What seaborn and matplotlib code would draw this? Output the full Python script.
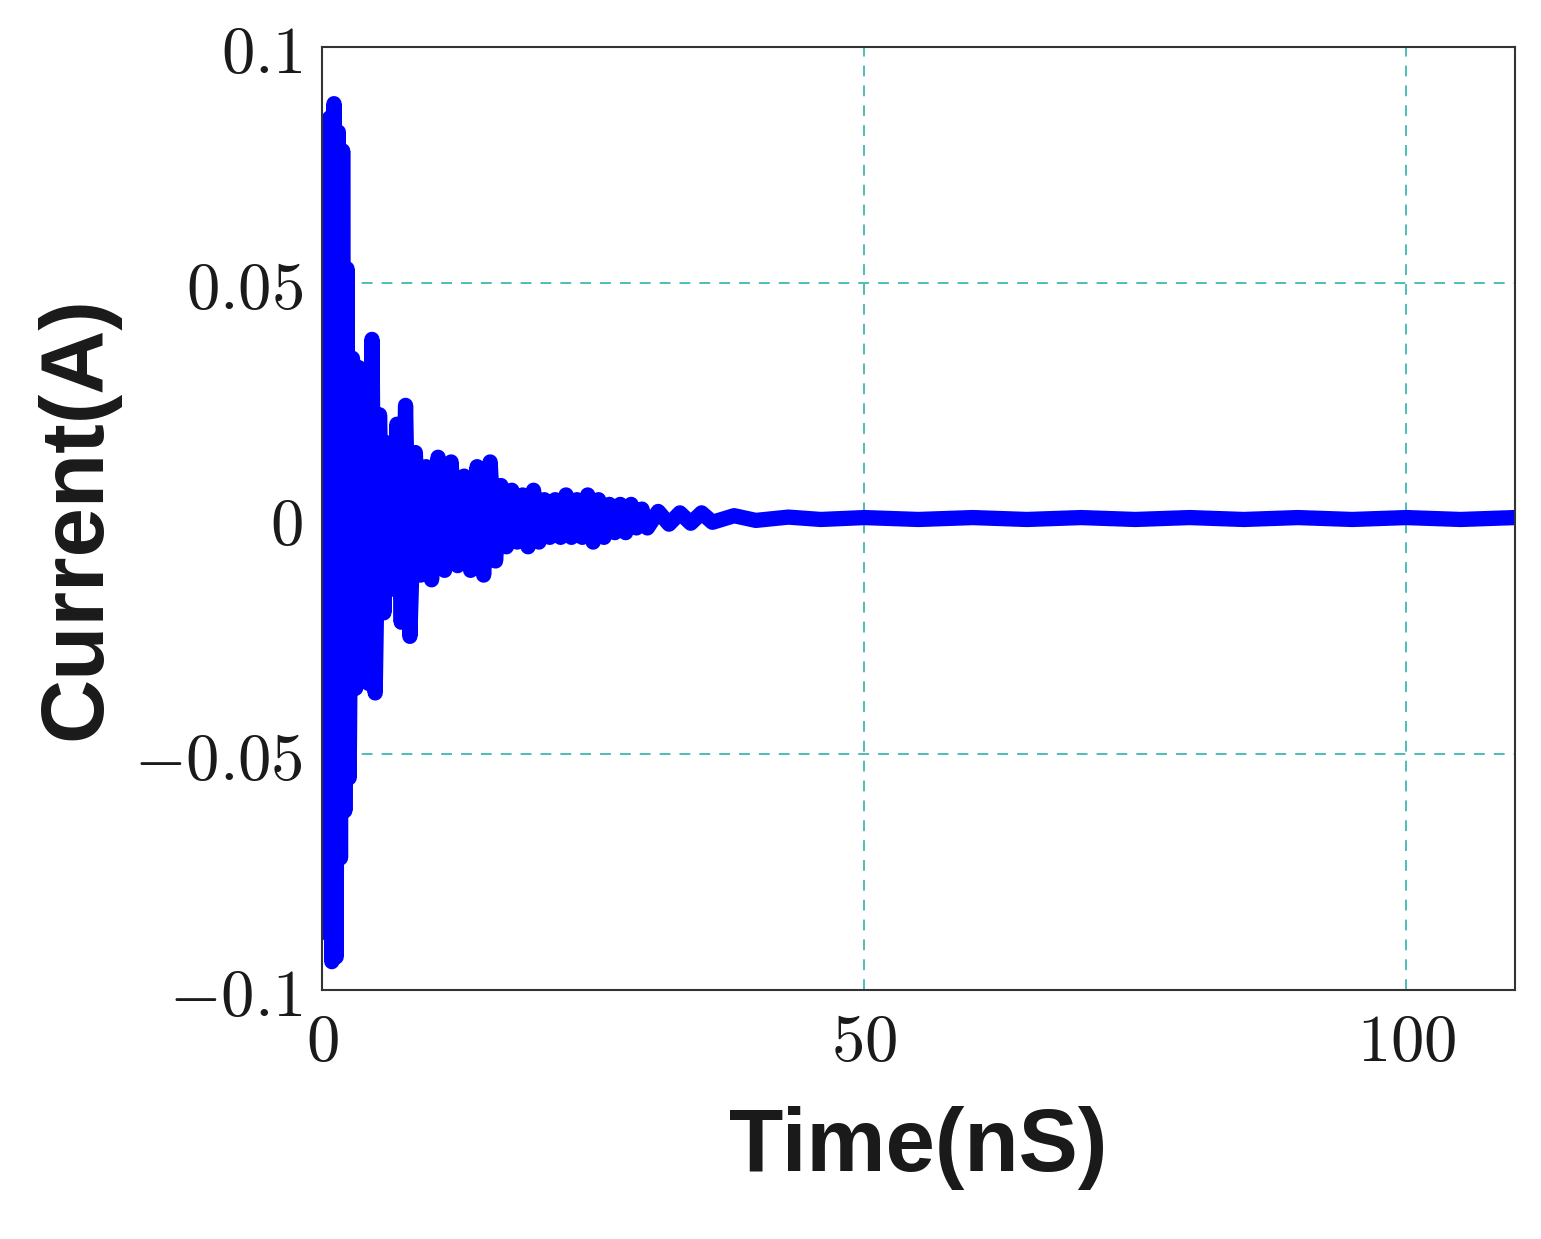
import matplotlib
matplotlib.use("Agg")
import matplotlib.pyplot as plt
import seaborn as sns
import pandas as pd

sns.set_style("white")
plt.rcParams['mathtext.fontset'] = 'cm'

time_ns = [0.0, 0.3, 0.5, 0.7, 0.9, 1.1, 1.3, 1.5, 1.7, 1.9, 2.1, 2.3, 2.5, 2.8, 3.1, 3.4, 3.7, 4.0, 4.3, 4.6, 4.9,
           5.3, 5.7, 6.1, 6.5, 6.9, 7.3, 7.7, 8.1, 8.6, 9.1, 9.6, 10.1, 10.7, 11.3, 11.9, 12.5, 13.1, 13.7, 14.3, 14.9,
           15.5, 16.0, 16.5, 17.0, 17.5, 18.0, 18.5, 19.0, 19.5, 20.0, 20.5, 21.0, 21.5, 22.0, 22.5, 23.0, 23.5, 24.0,
           24.5, 25.0, 25.5, 26.0, 26.5, 27.0, 27.5, 28.0, 28.5, 29.0, 29.5, 30.0, 31.0, 32.0, 33.0, 34.0, 35.0, 36.0,
           38, 40, 43, 46, 50, 55, 60, 65, 70, 75, 80, 85, 90, 95, 100, 105, 110]
current_a = [0.0, 0.066, -0.088, 0.085, -0.094, 0.088, -0.093, 0.082, -0.072, 0.078, -0.062, 0.053, -0.055, 0.034, -0.036, 0.032, -0.028, 0.026, -0.035, 0.038, -0.037,
             0.022, -0.020, 0.016, -0.015, 0.020, -0.022, 0.024, -0.025, 0.014, -0.012, 0.011, -0.013, 0.013, -0.011, 0.012, -0.010, 0.009, -0.011, 0.011, -0.012,
             0.012, -0.009, 0.007, -0.006, 0.006, -0.005, 0.005, -0.006, 0.006, -0.005, 0.004, -0.004, 0.004, -0.004, 0.005, -0.004, 0.004, -0.004,
             0.005, -0.005, 0.004, -0.004, 0.003, -0.003, 0.003, -0.003, 0.003, -0.002, 0.002, -0.002, 0.0015, -0.0012, 0.0012, -0.001, 0.0012, -0.0008,
             0.0006, -0.0004, 0.0003, -0.0002, 0.0002, -0.0002, 0.0002, -0.0002, 0.0002, -0.0002, 0.0002, -0.0002, 0.0002, -0.0002, 0.0002, -0.0002, 0.0002]

df = pd.DataFrame({"t": time_ns, "i": current_a})
fig = plt.figure(figsize=(15.41, 12.39), dpi=100)
ax = fig.add_axes([0.209, 0.201, 0.774, 0.761])
sns.lineplot(data=df, x="t", y="i", ax=ax, color="#0000ff", linewidth=11, solid_joinstyle="round", solid_capstyle="round")
ax.set_xlim(0, 110)
ax.set_ylim(-0.1, 0.1)
ax.set_xticks([0, 50, 100])
ax.set_xticklabels([r"$0$", r"$50$", r"$100$"])
ax.set_yticks([-0.1, -0.05, 0, 0.05, 0.1])
ax.set_yticklabels([r"$-0.1$", r"$-0.05$", r"$0$", r"$0.05$", r"$0.1$"])
ax.tick_params(labelsize=48, length=0, pad=14, labelcolor="#1a1a1a")
ax.grid(True, color="#3fb8b0", linestyle=(0, (6, 5)), linewidth=1.3)
for s in ax.spines.values():
    s.set_color("#333333"); s.set_linewidth(1.5)
ax.set_xlabel("Time(nS)", fontsize=64, fontweight="bold", family="Liberation Sans", labelpad=22, color="#1a1a1a")
ax.set_ylabel("Current(A)", fontsize=64, fontweight="bold", family="Liberation Sans", labelpad=10, color="#1a1a1a")
fig.savefig("out.png", dpi=100)
